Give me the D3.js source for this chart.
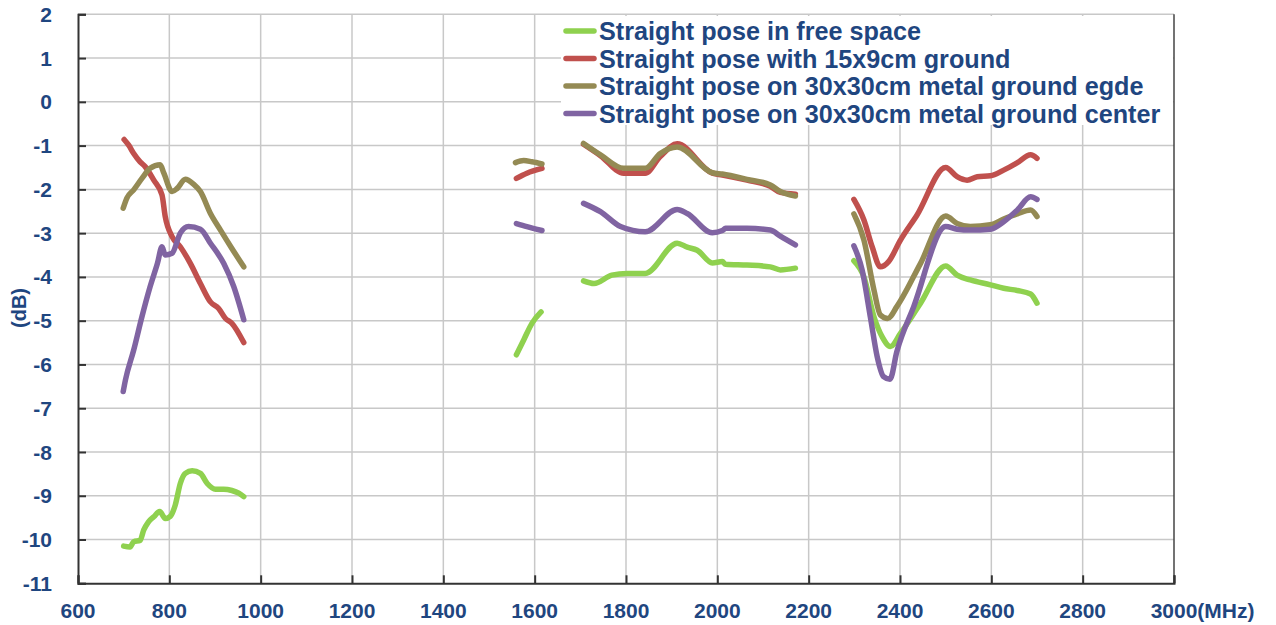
<!DOCTYPE html>
<html>
<head>
<meta charset="utf-8">
<script src="https://cdn.jsdelivr.net/npm/d3@7"></script>
<style>
  body { margin: 0; background: #fff; }
  text { font-family: "Liberation Sans", Arial, sans-serif; font-weight: bold; fill: #1f4680; }
</style>
</head>
<body>
<div id="chart"></div>
<script>
// Frequency ticks (MHz) and dB ticks
const xTicks = [600, 800, 1000, 1200, 1400, 1600, 1800, 2000, 2200, 2400, 2600, 2800, 3000];
const yTicks = [2, 1, 0, -1, -2, -3, -4, -5, -6, -7, -8, -9, -10, -11];

const seriesNames = [
    'Straight pose in free space',
    'Straight pose with 15x9cm ground',
    'Straight pose on 30x30cm metal ground egde',
    'Straight pose on 30x30cm metal ground center'
];
const seriesColors = ['#8fd14f', '#c0504d', '#948a54', '#8064a2'];

// [MHz, dB], null breaks the line between measured bands
const freeSpace = [
    [700, -10.15], [714, -10.17], [722, -10.05], [736, -10.02], [744, -9.78], [754, -9.6], [766, -9.48],
    [779, -9.36], [791, -9.52], [802, -9.47], [813, -9.21], [824, -8.72], [835, -8.49], [850, -8.43],
    [868, -8.49], [883, -8.72], [901, -8.85], [919, -8.85], [937, -8.88], [952, -8.94], [963, -9.02],
    null,
    [1560, -5.78], [1576, -5.44], [1594, -5.06], [1614, -4.8],
    null,
    [1707, -4.09], [1730, -4.15], [1769, -3.96], [1802, -3.92], [1842, -3.92], [1912, -3.23], [1934, -3.32],
    [1956, -3.39], [1989, -3.68], [2011, -3.65], [2018, -3.71], [2065, -3.73], [2116, -3.77], [2138, -3.84],
    [2171, -3.8],
    null,
    [2299, -3.63], [2321, -4.0], [2343, -4.91], [2361, -5.37], [2379, -5.59], [2401, -5.29], [2445, -4.6],
    [2500, -3.75], [2525, -3.96], [2554, -4.07], [2598, -4.18], [2627, -4.26], [2657, -4.31], [2686, -4.39],
    [2700, -4.6]
];

const ground15x9 = [
    [701, -0.86], [711, -0.99], [722, -1.18], [736, -1.37], [747, -1.48], [766, -1.79], [784, -2.13],
    [791, -2.62], [806, -3.08], [824, -3.31], [846, -3.69], [868, -4.15], [890, -4.57], [908, -4.72],
    [923, -4.95], [937, -5.06], [963, -5.5],
    null,
    [1560, -1.75], [1583, -1.63], [1616, -1.52],
    null,
    [1707, -0.97], [1744, -1.23], [1795, -1.63], [1842, -1.63], [1875, -1.25], [1912, -0.96], [1989, -1.63],
    [2011, -1.67], [2065, -1.79], [2116, -1.93], [2138, -2.07], [2171, -2.11],
    null,
    [2299, -2.23], [2321, -2.7], [2339, -3.31], [2357, -3.77], [2375, -3.65], [2401, -3.16], [2437, -2.59],
    [2500, -1.5], [2525, -1.71], [2547, -1.79], [2569, -1.71], [2598, -1.69], [2627, -1.56], [2657, -1.39],
    [2686, -1.21], [2700, -1.29]
];

const metalEdge = [
    [699, -2.43], [707, -2.2], [722, -2.01], [740, -1.75], [758, -1.52], [780, -1.44], [788, -1.63],
    [806, -2.05], [817, -1.98], [835, -1.77], [853, -1.88], [868, -2.05], [890, -2.55], [912, -2.93],
    [937, -3.35], [963, -3.77],
    null,
    [1558, -1.39], [1576, -1.34], [1594, -1.37], [1616, -1.42],
    null,
    [1707, -0.95], [1744, -1.21], [1795, -1.52], [1842, -1.52], [1875, -1.18], [1912, -1.03], [1989, -1.62],
    [2011, -1.65], [2065, -1.77], [2116, -1.9], [2138, -2.05], [2171, -2.15],
    null,
    [2299, -2.56], [2321, -3.16], [2343, -4.3], [2357, -4.87], [2373, -4.95], [2393, -4.68], [2445, -3.69],
    [2500, -2.61], [2525, -2.78], [2554, -2.85], [2598, -2.81], [2627, -2.68], [2657, -2.56], [2686, -2.47],
    [2700, -2.62]
];

const metalCenter = [
    [699, -6.62], [704, -6.35], [722, -5.67], [740, -4.91], [758, -4.22], [774, -3.69], [784, -3.31],
    [791, -3.5], [806, -3.46], [824, -3.0], [842, -2.85], [868, -2.91], [890, -3.23], [919, -3.69],
    [941, -4.22], [963, -4.98],
    null,
    [1560, -2.78], [1583, -2.85], [1616, -2.94],
    null,
    [1707, -2.32], [1744, -2.51], [1788, -2.85], [1842, -2.97], [1912, -2.46], [1934, -2.55], [1989, -2.99],
    [2011, -2.94], [2018, -2.89], [2065, -2.89], [2116, -2.93], [2138, -3.07], [2171, -3.27],
    null,
    [2299, -3.29], [2317, -3.84], [2335, -4.91], [2350, -5.82], [2364, -6.28], [2378, -6.34], [2393, -5.71],
    [2430, -4.68], [2500, -2.85], [2525, -2.91], [2554, -2.93], [2598, -2.91], [2627, -2.74], [2657, -2.47],
    [2686, -2.17], [2700, -2.23]
];

const allSeries = [freeSpace, ground15x9, metalEdge, metalCenter];

const width = 1276, height = 625;
const plot = { left: 78, right: 1174, top: 14.3, bottom: 583.3 };

const svg = d3.select('#chart')
    .append('svg')
    .attr('width', width)
    .attr('height', height);

const x = d3.scaleLinear().domain([600, 3000]).range([plot.left, plot.right]);
const y = d3.scaleLinear().domain([-11, 2]).range([plot.bottom, plot.top]);

// Grid
svg.append('g')
    .selectAll('line')
    .data(xTicks.slice(1, -1))
    .enter()
    .append('line')
    .attr('x1', d => x(d)).attr('x2', d => x(d))
    .attr('y1', plot.top).attr('y2', plot.bottom)
    .attr('stroke', '#c8c8c8').attr('stroke-width', 1.5);

svg.append('g')
    .selectAll('line')
    .data(yTicks.slice(0, -1))
    .enter()
    .append('line')
    .attr('x1', plot.left).attr('x2', plot.right)
    .attr('y1', d => y(d)).attr('y2', d => y(d))
    .attr('stroke', '#c8c8c8').attr('stroke-width', 1.5);

// Right border
svg.append('line')
    .attr('x1', plot.right).attr('x2', plot.right)
    .attr('y1', plot.top).attr('y2', plot.bottom)
    .attr('stroke', '#444').attr('stroke-width', 1.5);

// Axes with inward ticks
const yAxis = svg.append('g')
    .attr('transform', `translate(${plot.left},0)`)
    .call(d3.axisRight(y).tickValues(yTicks).tickSize(8).tickFormat(''));
const xAxis = svg.append('g')
    .attr('transform', `translate(0,${plot.bottom})`)
    .call(d3.axisTop(x).tickValues(xTicks).tickSize(8).tickFormat(''));
[yAxis, xAxis].forEach(a => {
    a.select('.domain').attr('stroke', '#333').attr('stroke-width', 2);
    a.selectAll('.tick line').attr('stroke', '#333').attr('stroke-width', 2);
});

// Tick labels
svg.append('g')
    .selectAll('text')
    .data(yTicks)
    .enter()
    .append('text')
    .attr('x', 52)
    .attr('y', d => y(d))
    .attr('dy', '0.36em')
    .attr('text-anchor', 'end')
    .style('font-size', '21px')
    .text(d => d);

const xLabels = svg.append('g')
    .selectAll('text')
    .data(xTicks)
    .enter()
    .append('text')
    .attr('x', d => x(d))
    .attr('y', 618)
    .attr('text-anchor', 'middle')
    .style('font-size', '21px')
    .text(d => d);

// last tick carries the unit, number stays centred on its tick
xLabels.filter(d => d === 3000).each(function (d) {
    const t = d3.select(this);
    const w = this.getComputedTextLength();
    t.attr('text-anchor', 'start').attr('x', x(d) - w / 2);
    t.append('tspan').text('(MHz)');
});

svg.append('text')
    .attr('transform', 'translate(26,308) rotate(-90)')
    .attr('text-anchor', 'middle')
    .style('font-size', '20px')
    .text('(dB)');

// Lines
const line = d3.line()
    .defined(d => d !== null)
    .x(d => x(d[0]))
    .y(d => y(d[1]))
    .curve(d3.curveMonotoneX);

svg.append('g')
    .selectAll('path')
    .data(allSeries)
    .enter()
    .append('path')
    .attr('d', line)
    .attr('fill', 'none')
    .attr('stroke', (d, i) => seriesColors[i])
    .attr('stroke-width', 5.5)
    .attr('stroke-linecap', 'round')
    .attr('stroke-linejoin', 'round');

// Legend
const legend = svg.append('g');
legend.append('rect')
    .attr('x', 561).attr('y', 16)
    .attr('width', plot.right - 1 - 561).attr('height', 109)
    .attr('fill', '#fff');

const legendItems = legend.selectAll('.legend-item')
    .data(seriesNames)
    .enter()
    .append('g')
    .attr('class', 'legend-item')
    .attr('transform', (d, i) => `translate(0, ${31 + i * 27.5})`);

legendItems.append('line')
    .attr('x1', 566).attr('x2', 594)
    .attr('stroke', (d, i) => seriesColors[i])
    .attr('stroke-width', 5.5)
    .attr('stroke-linecap', 'round');

legendItems.append('text')
    .attr('x', 599)
    .attr('dy', '0.36em')
    .style('font-size', '25.2px')
    .text(d => d);
</script>
</body>
</html>
